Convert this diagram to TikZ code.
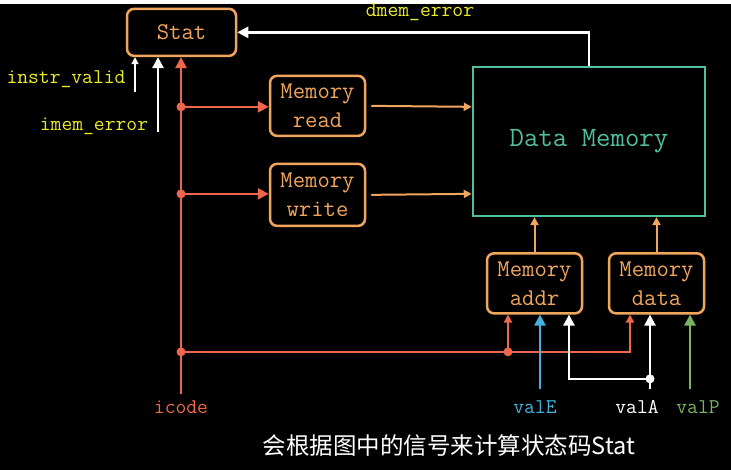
\documentclass[tikz,border=0pt]{standalone}
\usepackage{fontspec}
\newfontfamily\cjk{Noto Sans CJK SC}
\usetikzlibrary{arrows.meta}
\definecolor{orng}{RGB}{240,166,92}
\definecolor{rd}{RGB}{238,102,76}
\definecolor{tl}{RGB}{82,190,160}
\definecolor{yel}{RGB}{236,236,40}
\definecolor{bl}{RGB}{70,178,220}
\definecolor{gr}{RGB}{122,180,96}
\begin{document}
\begin{tikzpicture}[x=1pt,y=-1pt,
    box/.style={draw=orng, line width=2.5pt, rounded corners=7pt, text=orng,
      font=\ttfamily\fontsize{24}{29}\selectfont, align=center,
      minimum width=95pt, minimum height=60pt, inner sep=0pt},
    sig/.style={line width=2.5pt, -{Triangle[length=11pt,width=11pt]}},
    small/.style={line width=2pt, -{Triangle[length=8pt,width=8pt]}},
    dot/.style={circle, fill=#1, inner sep=0pt, minimum size=9pt},
    lbl/.style={font=\ttfamily\fontsize{21}{22}\selectfont}]
  \fill[black] (0,0) rectangle (731,466);

  % boxes
  \node[box, minimum width=109pt, minimum height=47pt] (stat) at (181.5,28.5) {Stat};
  \node[box] (mread) at (317.5,102) {Memory\\read};
  \node[box, minimum height=62pt] (mwrite) at (317.5,191) {Memory\\write};
  \node[draw=tl, line width=2.5pt, minimum width=232pt, minimum height=149pt, text=tl,
    font=\ttfamily\fontsize{28}{30}\selectfont] (dmem) at (589,137.5) {Data Memory};
  \node[box] (maddr) at (534.5,279.5) {Memory\\addr};
  \node[box] (mdata) at (656.5,279.5) {Memory\\data};

  % labels
  \node[lbl, text=yel] (ivalid) at (66,75) {instr\_valid};
  \node[lbl, text=yel] (imem) at (94,122) {imem\_error};
  \node[lbl, text=yel] (derr) at (420,8) {dmem\_error};
  \node[lbl, text=rd] (icode) at (181,403) {icode};
  \node[lbl, text=bl] (vale) at (535,403) {valE};
  \node[lbl, text=white] (vala) at (637,403) {valA};
  \node[lbl, text=gr] (valp) at (698,403) {valP};
  \node[text=white, font=\cjk\fontsize{23.5}{25}\selectfont] (cap) at (449,442) {会根据图中的信号来计算状态码Stat};

  % inputs of Stat
  \coordinate (iv0) at (135,88);
  \coordinate (im0) at (158,128);
  \coordinate (ic0) at (181,390);
  \draw[white, line width=1.5pt, -{Triangle[length=7pt,width=7pt]}] (iv0) -- (iv0 |- stat.south);
  \draw[sig, white] (im0) -- (im0 |- stat.south);
  \draw[sig, rd] (ic0) -- (ic0 |- stat.south);
  \draw[sig, white] (dmem.north) |- (stat.east);

  % icode branches
  \coordinate (j1) at (181,103);
  \coordinate (j2) at (181,190);
  \coordinate (j3) at (181,348);
  \coordinate (j4) at (508,348);
  \draw[sig, rd] (j1) -- (mread.west |- j1);
  \draw[sig, rd] (j2) -- (mwrite.west |- j2);
  \draw[small, rd] (j3) -| ([xshift=-26.5pt]mdata.south);
  \draw[small, rd] (j4) -- (j4 |- maddr.south);
  \foreach \j in {j1,j2,j3,j4} \node[dot=rd] at (\j) {};

  % into Data Memory
  \draw[small, orng] ([xshift=5pt]mread.east) -- (dmem.west |- j1);
  \draw[small, orng] ([xshift=5pt]mwrite.east) -- (dmem.west |- j2);
  \draw[small, orng] (maddr.north) -- (maddr.north |- dmem.south);
  \draw[small, orng] (mdata.north) -- (mdata.north |- dmem.south);

  % values
  \coordinate (e0) at (540,385);
  \coordinate (a0) at (650,385);
  \coordinate (a1) at (650,375);
  \coordinate (p0) at (690,385);
  \draw[sig, bl] (e0) -- (e0 |- maddr.south);
  \draw[sig, white] (a0) -- (a0 |- mdata.south);
  \draw[sig, white] (a1) -| ([xshift=34.5pt]maddr.south);
  \node[dot=white] at (a1) {};
  \draw[sig, gr] (p0) -- (p0 |- mdata.south);
\end{tikzpicture}
\end{document}
